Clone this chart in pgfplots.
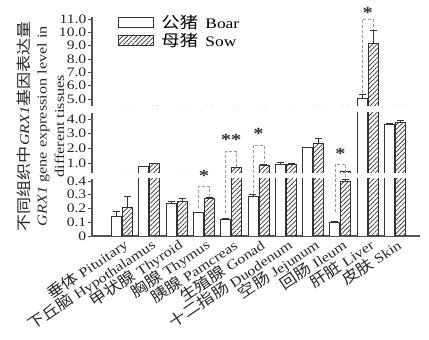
\documentclass[border=0pt]{standalone}
\usepackage{fontspec}
\setmainfont{Liberation Serif}[FakeStretch=1.2]
\newfontfamily\cjk{Noto Sans CJK SC}[FakeStretch=1.15,Scale=1.1]
\usepackage{pgfplots}
\usepackage{pgfplotstable}
\pgfplotsset{compat=1.18}
\usetikzlibrary{patterns.meta}
\definecolor{barc}{HTML}{333333}
\definecolor{axc}{HTML}{555555}
\definecolor{brc}{HTML}{9A9A9A}

\pgfplotstableread{
x boar boarE sow sowE
0 0.14 0.04 0.21 0.08
1 0.76 0.02 0.94 0.05
2 0.24 0.01 0.25 0.02
3 0.17 0.005 0.27 0.01
4 0.12 0.005 0.68 0.03
5 0.29 0.01 0.86 0.03
6 0.92 0.10 0.93 0.04
7 2.04 0.05 2.36 0.30
8 0.10 0.005 0.40 0.01
9 5.05 0.28 9.20 0.95
10 3.60 0.12 3.77 0.15
}\data

\tikzset{
  brk/.style={color=brc, line width=0.8pt, dash pattern=on 3pt off 2pt},
  star/.style={anchor=base, inner sep=0pt, font=\fontsize{17}{17}\selectfont\bfseries, text=black!80},
}
\pgfplotsset{
  seg/.style={
    scale only axis, width=328pt,
    xmin=-1.0989, xmax=10.916,
    ybar=1pt, bar width=10pt,
    axis y line*=left,
    axis line style={color=axc, line width=1.1pt},
    tick style={color=axc, line width=0.9pt},
    major tick length=4pt,
    tick align=outside,
    yticklabel style={color=black!85, inner sep=1.5pt},
    error bars/error bar style={color=barc, line width=0.8pt},
    error bars/error mark options={color=barc, line width=0.8pt, mark size=3.5pt, rotate=90},
  },
  boarsty/.style={draw=barc, fill=white, line width=0.8pt,
     legend image code/.code={\draw[draw=barc, fill=white, line width=0.8pt] (0pt,-5pt) rectangle (35pt,5pt);}},
  sowsty/.style={draw=barc, line width=0.8pt, pattern={Lines[angle=45,distance=3.2pt,line width=0.7pt]}, pattern color=barc,
     legend image code/.code={\draw[draw=barc, line width=0.8pt, pattern={Lines[angle=45,distance=3.2pt,line width=0.7pt]}, pattern color=barc] (0pt,-5pt) rectangle (35pt,5pt);}},
}

\newcommand{\bars}{%
  \addplot[boarsty, error bars/.cd, y dir=plus, y explicit] table[x=x,y=boar,y error=boarE]{\data};
  \addplot[sowsty, error bars/.cd, y dir=plus, y explicit] table[x=x,y=sow,y error=sowE]{\data};
}

\begin{document}
\fontsize{13}{15}\selectfont
\begin{tikzpicture}
\path[use as bounding box] (0pt,0pt) rectangle (429pt,340pt);

% bottom segment 0 - 0.41
\begin{axis}[seg, at={(92pt,104pt)}, anchor=south west, height=57pt,
  ymin=0, ymax=0.4145,
  axis x line*=bottom,
  ytick={0,0.1,0.2,0.3,0.4}, yticklabels={0,0.1,0.2,0.3,0.4},
  xtick={0,...,10},
  xtick style={yshift=4pt},
  xticklabels={
    {{\cjk 垂体} Pituitary},
    {{\cjk 下丘脑} Hypothalamus},
    {{\cjk 甲状腺} Thyroid},
    {{\cjk 胸腺} Thymus},
    {{\cjk 胰腺} Pamcreas},
    {{\cjk 生殖腺} Gonad},
    {{\cjk 十二指肠} Duodenum},
    {{\cjk 空肠} Jejunum},
    {{\cjk 回肠} Ileum},
    {{\cjk 肝脏} Liver},
    {{\cjk 皮肤} Skin}},
  xticklabel style={rotate=34, anchor=east, inner sep=1pt, xshift=3pt, yshift=-5pt,
     font=\fontsize{13.5}{15}\selectfont, color=black!85},
]
\bars
\coordinate (thyL) at (axis cs:2.8,0.20);
\coordinate (thyR) at (axis cs:3.2,0.285);
\coordinate (thyT) at (axis cs:3,0.358);
\coordinate (panL) at (axis cs:3.8,0.167);
\coordinate (gonL) at (axis cs:4.8,0.313);
\coordinate (ileL) at (axis cs:7.8,0.175);
\coordinate (ileR) at (axis cs:8.2,0.43);
\end{axis}

% middle segment 0.32 - 4.41
\begin{axis}[seg, at={(92pt,167pt)}, anchor=south west, height=60pt,
  ymin=0.318, ymax=4.408,
  axis x line=none,
  ytick={1,2,3,4}, yticklabels={1.0,2.0,3.0,4.0},
  ylabel={{\cjk 不同组织中}\textit{GRX1}{\cjk 基因表达量}\\\textit{GRX1} gene expression level in\\different tissues},
  ylabel style={at={(axis description cs:-0.157,0.78)}, anchor=center, align=center,
     font=\fontsize{13.5}{17.5}\selectfont, color=black!85},
]
\bars
\coordinate (panR) at (axis cs:4.2,0.72);
\coordinate (panT) at (axis cs:4,1.77);
\coordinate (gonR) at (axis cs:5.2,1.0);
\coordinate (gonT) at (axis cs:5,2.23);
\coordinate (ileT) at (axis cs:8,0.93);
\end{axis}

% top segment 4.47 - 11.15
\begin{axis}[seg, at={(92pt,234pt)}, anchor=south west, height=89pt,
  ymin=4.475, ymax=11.15,
  axis x line=none,
  ytick={5,6,7,8,9,10,11}, yticklabels={5.0,6.0,7.0,8.0,9.0,10.0,11.0},
  legend style={at={(axis description cs:0.07,1.067)}, anchor=north west, draw=none, fill=none,
     row sep=0pt, nodes={inner sep=1.5pt},
     font=\fontsize{14.5}{16}\selectfont},
  legend cell align=left,
]
\bars
\addlegendentry{\hspace{6pt}{\cjk 公猪}\enspace Boar}
\addlegendentry{\hspace{6pt}{\cjk 母猪}\enspace Sow}
\coordinate (livL) at (axis cs:8.8,5.43);
\coordinate (livR) at (axis cs:9.2,10.2);
\coordinate (livT) at (axis cs:9,11.0);
\end{axis}

% significance brackets
\draw[brk] (thyL) -- (thyL |- thyT) -- (thyR |- thyT) -- (thyR);
\node[star, yshift=5pt] at (thyT) {*};
\draw[brk] (panL) -- (panL |- panT) -- (panR |- panT) -- (panR);
\node[star, yshift=6pt] at (panT) {**};
\draw[brk] (gonL) -- (gonL |- gonT) -- (gonR |- gonT) -- (gonR);
\node[star, yshift=5pt] at (gonT) {*};
\draw[brk] (ileL) -- (ileL |- ileT) -- (ileR |- ileT) -- (ileR);
\node[star, yshift=5pt] at (ileT) {*};
\draw[brk] (livL) -- (livL |- livT) -- (livR |- livT) -- (livR);
\node[star, yshift=0.5pt] at (livT) {*};
\end{tikzpicture}
\end{document}
